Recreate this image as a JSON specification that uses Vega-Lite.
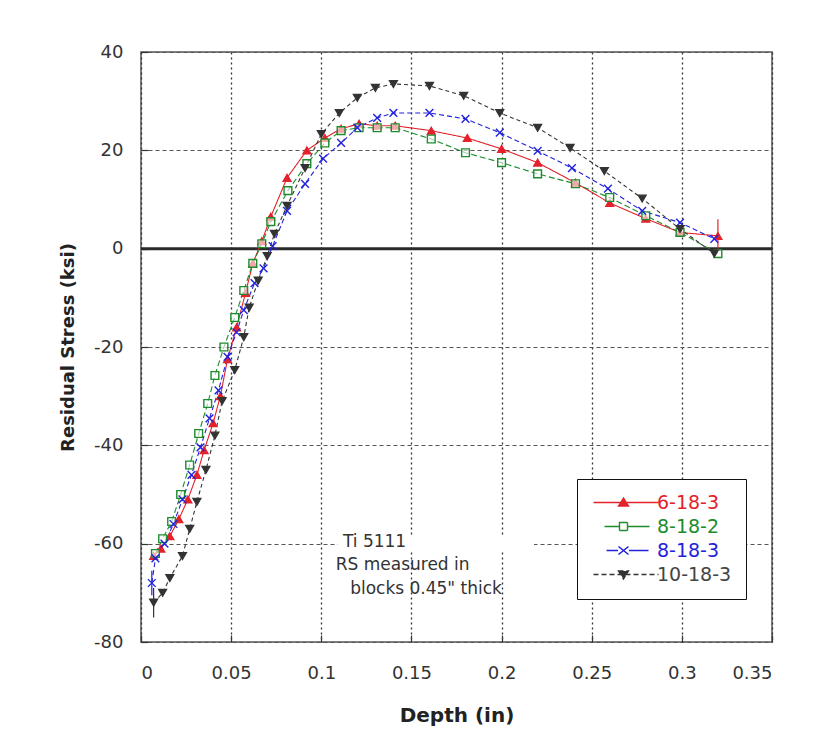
{
  "$schema": "https://vega.github.io/schema/vega-lite/v6.json",
  "width": 631,
  "height": 590,
  "autosize": {"type": "none"},
  "padding": {"left": 141, "top": 52, "right": 46, "bottom": 98},
  "background": "white",
  "config": {
    "view": {"stroke": "#555", "strokeWidth": 1.5},
    "font": "DejaVu Sans",
    "axis": {
      "labelFont": "DejaVu Sans",
      "labelFontSize": 18,
      "labelColor": "#333",
      "titleFont": "DejaVu Sans",
      "titleFontWeight": "bold",
      "titleColor": "#222",
      "domain": false,
      "tickColor": "#333",
      "tickSize": -7,
      "tickWidth": 1.2
    }
  },
  "datasets": {
    "pts": [
      {"series": "6-18-3", "depth": 0.007, "stress": -62.5},
      {"series": "6-18-3", "depth": 0.011, "stress": -61},
      {"series": "6-18-3", "depth": 0.016, "stress": -58.5},
      {"series": "6-18-3", "depth": 0.021, "stress": -55},
      {"series": "6-18-3", "depth": 0.026, "stress": -51},
      {"series": "6-18-3", "depth": 0.031, "stress": -46},
      {"series": "6-18-3", "depth": 0.035, "stress": -41},
      {"series": "6-18-3", "depth": 0.040, "stress": -35.5},
      {"series": "6-18-3", "depth": 0.044, "stress": -30},
      {"series": "6-18-3", "depth": 0.048, "stress": -22.5},
      {"series": "6-18-3", "depth": 0.053, "stress": -16},
      {"series": "6-18-3", "depth": 0.058, "stress": -9},
      {"series": "6-18-3", "depth": 0.062, "stress": -3},
      {"series": "6-18-3", "depth": 0.067, "stress": 1.5},
      {"series": "6-18-3", "depth": 0.072, "stress": 6.5},
      {"series": "6-18-3", "depth": 0.081, "stress": 14.4},
      {"series": "6-18-3", "depth": 0.092, "stress": 20},
      {"series": "6-18-3", "depth": 0.102, "stress": 22.5},
      {"series": "6-18-3", "depth": 0.111, "stress": 24.4},
      {"series": "6-18-3", "depth": 0.121, "stress": 25.4},
      {"series": "6-18-3", "depth": 0.131, "stress": 25},
      {"series": "6-18-3", "depth": 0.141, "stress": 25},
      {"series": "6-18-3", "depth": 0.161, "stress": 24},
      {"series": "6-18-3", "depth": 0.181, "stress": 22.5},
      {"series": "6-18-3", "depth": 0.200, "stress": 20.3},
      {"series": "6-18-3", "depth": 0.220, "stress": 17.5},
      {"series": "6-18-3", "depth": 0.241, "stress": 13.4},
      {"series": "6-18-3", "depth": 0.260, "stress": 9.3},
      {"series": "6-18-3", "depth": 0.280, "stress": 6.1},
      {"series": "6-18-3", "depth": 0.299, "stress": 3.3},
      {"series": "6-18-3", "depth": 0.320, "stress": 2.6},

      {"series": "8-18-2", "depth": 0.008, "stress": -62},
      {"series": "8-18-2", "depth": 0.012, "stress": -59},
      {"series": "8-18-2", "depth": 0.017, "stress": -55.5},
      {"series": "8-18-2", "depth": 0.022, "stress": -50},
      {"series": "8-18-2", "depth": 0.027, "stress": -44},
      {"series": "8-18-2", "depth": 0.032, "stress": -37.6},
      {"series": "8-18-2", "depth": 0.037, "stress": -31.5},
      {"series": "8-18-2", "depth": 0.041, "stress": -25.8},
      {"series": "8-18-2", "depth": 0.046, "stress": -20},
      {"series": "8-18-2", "depth": 0.052, "stress": -14},
      {"series": "8-18-2", "depth": 0.057, "stress": -8.5},
      {"series": "8-18-2", "depth": 0.062, "stress": -3},
      {"series": "8-18-2", "depth": 0.067, "stress": 1},
      {"series": "8-18-2", "depth": 0.072, "stress": 5.5},
      {"series": "8-18-2", "depth": 0.0815, "stress": 11.8},
      {"series": "8-18-2", "depth": 0.092, "stress": 17.3},
      {"series": "8-18-2", "depth": 0.102, "stress": 21.5},
      {"series": "8-18-2", "depth": 0.111, "stress": 24},
      {"series": "8-18-2", "depth": 0.121, "stress": 24.6},
      {"series": "8-18-2", "depth": 0.131, "stress": 24.6},
      {"series": "8-18-2", "depth": 0.141, "stress": 24.6},
      {"series": "8-18-2", "depth": 0.161, "stress": 22.3},
      {"series": "8-18-2", "depth": 0.180, "stress": 19.5},
      {"series": "8-18-2", "depth": 0.200, "stress": 17.5},
      {"series": "8-18-2", "depth": 0.220, "stress": 15.2},
      {"series": "8-18-2", "depth": 0.241, "stress": 13.2},
      {"series": "8-18-2", "depth": 0.260, "stress": 10.4},
      {"series": "8-18-2", "depth": 0.280, "stress": 6.7},
      {"series": "8-18-2", "depth": 0.299, "stress": 3.3},
      {"series": "8-18-2", "depth": 0.320, "stress": -1},

      {"series": "8-18-3", "depth": 0.006, "stress": -68},
      {"series": "8-18-3", "depth": 0.008, "stress": -63},
      {"series": "8-18-3", "depth": 0.013, "stress": -60},
      {"series": "8-18-3", "depth": 0.018, "stress": -56},
      {"series": "8-18-3", "depth": 0.023, "stress": -51},
      {"series": "8-18-3", "depth": 0.028, "stress": -46},
      {"series": "8-18-3", "depth": 0.033, "stress": -40.4},
      {"series": "8-18-3", "depth": 0.038, "stress": -34.5},
      {"series": "8-18-3", "depth": 0.043, "stress": -28.8},
      {"series": "8-18-3", "depth": 0.048, "stress": -22},
      {"series": "8-18-3", "depth": 0.053, "stress": -17},
      {"series": "8-18-3", "depth": 0.057, "stress": -12.5},
      {"series": "8-18-3", "depth": 0.063, "stress": -7},
      {"series": "8-18-3", "depth": 0.068, "stress": -4},
      {"series": "8-18-3", "depth": 0.073, "stress": 0.5},
      {"series": "8-18-3", "depth": 0.081, "stress": 7.7},
      {"series": "8-18-3", "depth": 0.091, "stress": 13.2},
      {"series": "8-18-3", "depth": 0.101, "stress": 18.3},
      {"series": "8-18-3", "depth": 0.111, "stress": 21.5},
      {"series": "8-18-3", "depth": 0.120, "stress": 24.6},
      {"series": "8-18-3", "depth": 0.131, "stress": 26.6},
      {"series": "8-18-3", "depth": 0.140, "stress": 27.6},
      {"series": "8-18-3", "depth": 0.160, "stress": 27.6},
      {"series": "8-18-3", "depth": 0.180, "stress": 26.4},
      {"series": "8-18-3", "depth": 0.199, "stress": 23.6},
      {"series": "8-18-3", "depth": 0.220, "stress": 19.9},
      {"series": "8-18-3", "depth": 0.239, "stress": 16.4},
      {"series": "8-18-3", "depth": 0.259, "stress": 12.2},
      {"series": "8-18-3", "depth": 0.278, "stress": 7.7},
      {"series": "8-18-3", "depth": 0.299, "stress": 5.3},
      {"series": "8-18-3", "depth": 0.318, "stress": 2},

      {"series": "10-18-3", "depth": 0.007, "stress": -72},
      {"series": "10-18-3", "depth": 0.012, "stress": -70},
      {"series": "10-18-3", "depth": 0.016, "stress": -67},
      {"series": "10-18-3", "depth": 0.023, "stress": -62.5},
      {"series": "10-18-3", "depth": 0.027, "stress": -57},
      {"series": "10-18-3", "depth": 0.031, "stress": -51.5},
      {"series": "10-18-3", "depth": 0.036, "stress": -45},
      {"series": "10-18-3", "depth": 0.041, "stress": -38},
      {"series": "10-18-3", "depth": 0.045, "stress": -31},
      {"series": "10-18-3", "depth": 0.052, "stress": -24.7},
      {"series": "10-18-3", "depth": 0.057, "stress": -18},
      {"series": "10-18-3", "depth": 0.060, "stress": -12},
      {"series": "10-18-3", "depth": 0.065, "stress": -6.5},
      {"series": "10-18-3", "depth": 0.070, "stress": -1.5},
      {"series": "10-18-3", "depth": 0.074, "stress": 3},
      {"series": "10-18-3", "depth": 0.081, "stress": 8.7},
      {"series": "10-18-3", "depth": 0.091, "stress": 16.4},
      {"series": "10-18-3", "depth": 0.100, "stress": 23.3},
      {"series": "10-18-3", "depth": 0.110, "stress": 27.6},
      {"series": "10-18-3", "depth": 0.120, "stress": 30.7},
      {"series": "10-18-3", "depth": 0.130, "stress": 32.7},
      {"series": "10-18-3", "depth": 0.140, "stress": 33.5},
      {"series": "10-18-3", "depth": 0.160, "stress": 33.1},
      {"series": "10-18-3", "depth": 0.179, "stress": 31.1},
      {"series": "10-18-3", "depth": 0.199, "stress": 27.6},
      {"series": "10-18-3", "depth": 0.220, "stress": 24.6},
      {"series": "10-18-3", "depth": 0.238, "stress": 20.5},
      {"series": "10-18-3", "depth": 0.257, "stress": 15.8},
      {"series": "10-18-3", "depth": 0.278, "stress": 10.2},
      {"series": "10-18-3", "depth": 0.299, "stress": 4},
      {"series": "10-18-3", "depth": 0.318, "stress": -1}
    ],
    "errs": [
      {"series": "6-18-3", "depth": 0.320, "lo": 0, "hi": 6},
      {"series": "10-18-3", "depth": 0.007, "lo": -75, "hi": -69},
      {"series": "8-18-3", "depth": 0.006, "lo": -70.5, "hi": -65.5}
    ],
    "notes": [
      {"label": "Ti 5111", "depth": 0.112, "stress": -59.6},
      {"label": "RS measured in", "depth": 0.108, "stress": -64.4},
      {"label": "blocks 0.45\" thick", "depth": 0.116, "stress": -69.2}
    ],
    "mask": [
      {"x1": 0.109, "x2": 0.218, "y1": -58.6, "y2": -61.4}
    ],
    "zero": [
      {"stress": 0}
    ]
  },
  "layer": [
    {
      "data": {"name": "mask"},
      "mark": {"type": "rect", "color": "white"},
      "encoding": {
        "x": {"field": "x1", "type": "quantitative", "scale": {"domain": [0, 0.35]}},
        "x2": {"field": "x2"},
        "y": {"field": "y1", "type": "quantitative", "scale": {"domain": [-80, 40]}},
        "y2": {"field": "y2"}
      }
    },
    {
      "data": {"name": "zero"},
      "mark": {"type": "rule", "color": "#2a2a2a", "strokeWidth": 3},
      "encoding": {
        "y": {"field": "stress", "type": "quantitative"}
      }
    },
    {
      "data": {"name": "pts"},
      "transform": [{"calculate": "datum.series", "as": "kind"}],
      "mark": {"type": "line", "strokeWidth": 1.1},
      "encoding": {
        "x": {
          "field": "depth", "type": "quantitative",
          "scale": {"domain": [0, 0.35], "nice": false, "zero": false},
          "axis": {
            "title": "Depth (in)",
            "titleFontSize": 20,
            "titlePadding": 23,
            "values": [0, 0.05, 0.1, 0.15, 0.2, 0.25, 0.3, 0.35],
            "format": "~g",
            "labelPadding": 29,
            "grid": true,
            "gridColor": "#333",
            "gridDash": [2, 3],
            "gridWidth": 1.3
          }
        },
        "y": {
          "field": "stress", "type": "quantitative",
          "scale": {"domain": [-80, 40], "nice": false},
          "axis": {
            "title": "Residual Stress (ksi)",
            "titleFontSize": 18,
            "titlePadding": 16,
            "values": [-80, -60, -40, -20, 0, 20, 40],
            "labelExpr": "'' + datum.value",
            "labelPadding": 25,
            "grid": true,
            "gridColor": "#555",
            "gridDash": [4, 3],
            "gridWidth": 1.1
          }
        },
        "color": {
          "field": "series", "type": "nominal",
          "scale": {
            "domain": ["6-18-3", "8-18-2", "8-18-3", "10-18-3"],
            "range": ["#e3222b", "#1c8c2c", "#2222dd", "#333333"]
          },
          "legend": {
            "title": null,
            "orient": "none",
            "legendX": 436,
            "legendY": 427,
            "direction": "vertical",
            "padding": 14,
            "fillColor": "white",
            "strokeColor": "#111",
            "cornerRadius": 0,
            "symbolSize": 64,
            "labelOffset": 47,
            "labelFont": "DejaVu Sans",
            "labelFontSize": 19,
            "rowPadding": 4,
            "encode": {
              "symbols": {
                "update": {
                  "shape": {"signal": "datum.value === '6-18-3' ? 'M-1.75,0H14.5M5.75,-1.1L7,0.9L4.5,0.9Z' : datum.value === '8-18-2' ? 'M1,0H4.75M6.75,0H12.25M4.75,-1H6.75V1H4.75Z' : datum.value === '8-18-3' ? 'M1.5,0H4.4M7.1,0H12M4.5,-1L7,1M4.5,1L7,-1' : 'M-1.75,0H14.5M4.5,-0.9L7,-0.9L5.75,1.1Z'"},
                  "fill": {"signal": "datum.value === '6-18-3' ? '#e3222b' : datum.value === '10-18-3' ? '#333333' : datum.value === '8-18-2' ? 'white' : 'transparent'"},
                  "strokeDash": {"signal": "datum.value === '10-18-3' ? [5, 3] : [1, 0]"},
                  "strokeWidth": {"value": 1.4},
                  "opacity": {"value": 1},
                  "size": {"value": 64}
                }
              },
              "labels": {
                "update": {
                  "fill": {"signal": "datum.value === '6-18-3' ? '#e3222b' : datum.value === '8-18-2' ? '#1c8c2c' : datum.value === '8-18-3' ? '#2222dd' : '#444444'"}
                }
              }
            }
          }
        },
        "strokeDash": {
          "field": "kind", "type": "nominal",
          "scale": {
            "domain": ["10-18-3", "6-18-3", "8-18-2", "8-18-3"],
            "range": [[4, 3], [1, 0], [6, 3], [5, 3]]
          },
          "legend": null
        }
      }
    },
    {
      "data": {"name": "errs"},
      "mark": {"type": "rule", "strokeWidth": 1.2},
      "encoding": {
        "x": {"field": "depth", "type": "quantitative"},
        "y": {"field": "lo", "type": "quantitative"},
        "y2": {"field": "hi"},
        "color": {"field": "series", "type": "nominal"}
      }
    },
    {
      "data": {"name": "pts"},
      "transform": [{"calculate": "datum.series", "as": "kind"}],
      "mark": {"type": "point", "size": 60, "strokeWidth": 1.4, "opacity": 1},
      "encoding": {
        "x": {"field": "depth", "type": "quantitative"},
        "y": {"field": "stress", "type": "quantitative"},
        "color": {"field": "series", "type": "nominal"},
        "shape": {
          "field": "kind", "type": "nominal",
          "scale": {
            "domain": ["10-18-3", "6-18-3", "8-18-2", "8-18-3"],
            "range": ["triangle-down", "triangle-up", "square", "M-1,-1L1,1M-1,1L1,-1"]
          },
          "legend": null
        },
        "fill": {
          "field": "kind", "type": "nominal",
          "scale": {
            "domain": ["10-18-3", "6-18-3", "8-18-2", "8-18-3"],
            "range": ["#333333", "#e3222b", "rgba(255,255,255,0.6)", "rgba(0,0,0,0)"]
          },
          "legend": null
        }
      }
    },
    {
      "data": {"name": "notes"},
      "mark": {"type": "text", "align": "left", "baseline": "middle", "fontSize": 17, "font": "DejaVu Sans", "color": "#333"},
      "encoding": {
        "x": {"field": "depth", "type": "quantitative"},
        "y": {"field": "stress", "type": "quantitative"},
        "text": {"field": "label"}
      }
    }
  ]
}
